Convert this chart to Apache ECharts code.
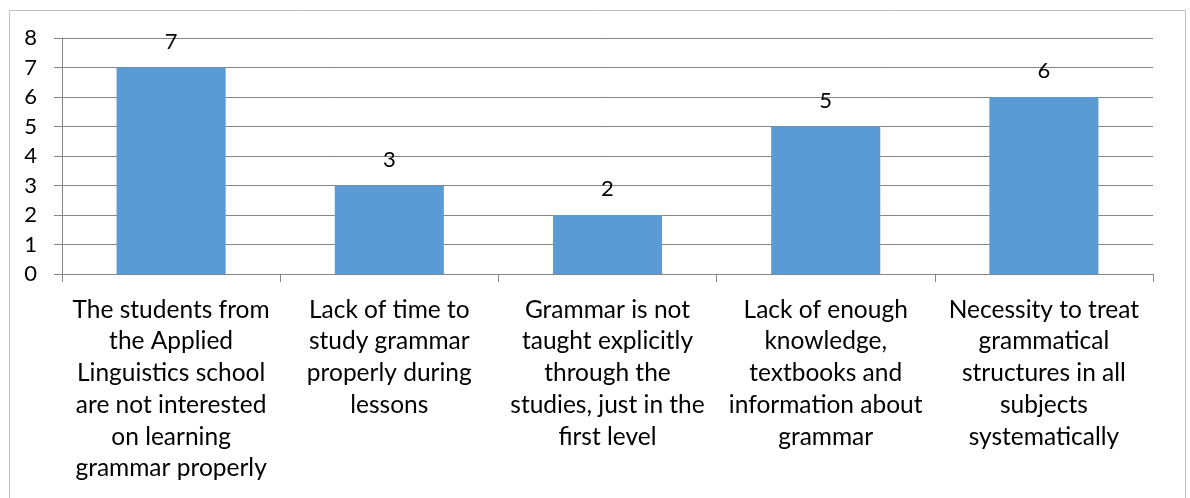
<!DOCTYPE html>
<html><head><meta charset="utf-8">
<script src="https://cdn.jsdelivr.net/npm/echarts@6/dist/echarts.min.js"></script>
<style>html,body{margin:0;padding:0;background:#fff}#c{width:1190px;height:498px}</style>
</head><body><div id="c"></div>
<script>
const categories = [
  "The students from\nthe Applied\nLinguistics school\nare not interested\non learning\ngrammar properly",
  "Lack of time to\nstudy grammar\nproperly during\nlessons",
  "Grammar is not\ntaught explicitly\nthrough the\nstudies, just in the\nfirst level",
  "Lack of enough\nknowledge,\ntextbooks and\ninformation about\ngrammar",
  "Necessity to treat\ngrammatical\nstructures in all\nsubjects\nsystematically"
];
const values = [7, 3, 2, 5, 6];
const yTicks = [0, 1, 2, 3, 4, 5, 6, 7, 8];

const FONT = 'Lato';
const chart = echarts.init(document.getElementById('c'));
chart.setOption({
  animation: false,
  graphic: [{
    type: 'rect', left: 7, top: 8,
    shape: { width: 1176, height: 520 },
    style: { fill: 'none', stroke: '#bfbfbf', lineWidth: 1 }
  }],
  grid: { left: 62, right: 37, top: 38, bottom: 224, containLabel: false },
  xAxis: {
    type: 'category', data: categories,
    axisLine: { lineStyle: { color: '#868686' } },
    axisTick: { show: true, length: 8, alignWithLabel: false, lineStyle: { color: '#868686' } },
    axisLabel: { interval: 0, margin: 20, color: '#000', fontFamily: FONT, fontSize: 24.5, lineHeight: 31.7, align: 'center' }
  },
  yAxis: {
    type: 'value', min: yTicks[0], max: yTicks[yTicks.length - 1], interval: 1,
    axisLine: { show: true, lineStyle: { color: '#868686' } },
    axisTick: { show: true, length: 8, lineStyle: { color: '#868686' } },
    splitLine: { lineStyle: { color: '#868686' } },
    axisLabel: { margin: 25, color: '#000', fontFamily: FONT, fontSize: 22 }
  },
  series: [{
    type: 'bar', data: values, barWidth: '50%',
    itemStyle: { color: '#5B9BD5' },
    label: { show: true, position: 'top', distance: 15, color: '#000', fontFamily: FONT, fontSize: 22 }
  }]
});
</script></body></html>
